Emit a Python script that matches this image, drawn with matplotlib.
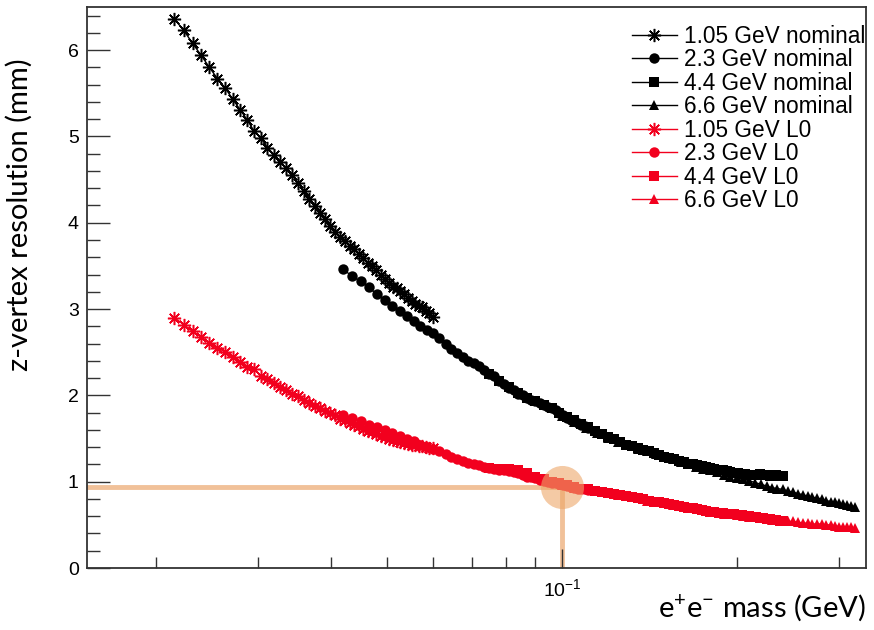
import matplotlib
matplotlib.use('Agg')
import matplotlib.pyplot as plt
from matplotlib.ticker import MultipleLocator, LogLocator, NullFormatter

plt.rcParams['font.family'] = ['Liberation Sans', 'DejaVu Sans']
plt.rcParams['mathtext.fontset'] = 'custom'
plt.rcParams['mathtext.rm'] = 'Lato'

# mass points (GeV) for each beam energy
mass_105 = [0.0215, 0.0223, 0.0231, 0.0239, 0.0247, 0.0255, 0.0263, 0.0271, 0.0279,
            0.0287, 0.0295, 0.0303, 0.0311, 0.0319, 0.0327, 0.0335, 0.0343, 0.0351,
            0.0359, 0.0367, 0.0375, 0.0383, 0.0391, 0.0399, 0.0407, 0.0415, 0.0423,
            0.0431, 0.0439, 0.0447, 0.0455, 0.0463, 0.0471, 0.0479, 0.0487, 0.0495,
            0.0503, 0.0511, 0.0519, 0.0527, 0.0535, 0.0543, 0.0551, 0.0559, 0.0567,
            0.0575, 0.0583, 0.0591, 0.0599]
mass_23 = [0.0420, 0.0435, 0.0450, 0.0465, 0.0480, 0.0495, 0.0510, 0.0525, 0.0540,
           0.0555, 0.0570, 0.0585, 0.0600, 0.0615, 0.0630, 0.0645, 0.0660, 0.0675,
           0.0690, 0.0705, 0.0720, 0.0735, 0.0750, 0.0765, 0.0780, 0.0795, 0.0810,
           0.0825, 0.0840, 0.0855, 0.0870, 0.0885, 0.0900, 0.0915, 0.0930, 0.0945,
           0.0960, 0.0975, 0.0990, 0.1005, 0.1020, 0.1035, 0.1050, 0.1065, 0.1080,
           0.1095, 0.1110]
mass_44 = [0.075, 0.078, 0.081, 0.084, 0.087, 0.090, 0.093, 0.096, 0.099, 0.102,
           0.105, 0.108, 0.111, 0.114, 0.117, 0.120, 0.123, 0.126, 0.129, 0.132,
           0.135, 0.138, 0.141, 0.144, 0.147, 0.150, 0.153, 0.156, 0.159, 0.162,
           0.165, 0.168, 0.171, 0.174, 0.177, 0.180, 0.183, 0.186, 0.189, 0.192,
           0.195, 0.198, 0.201, 0.204, 0.207, 0.210, 0.213, 0.216, 0.219, 0.222,
           0.225, 0.228, 0.231, 0.234, 0.237, 0.240]
mass_66 = [0.100, 0.105, 0.110, 0.115, 0.120, 0.125, 0.130, 0.135, 0.140, 0.145,
           0.150, 0.155, 0.160, 0.165, 0.170, 0.175, 0.180, 0.185, 0.190, 0.195,
           0.200, 0.205, 0.210, 0.215, 0.220, 0.225, 0.230, 0.235, 0.240, 0.245,
           0.250, 0.255, 0.260, 0.265, 0.270, 0.275, 0.280, 0.285, 0.290, 0.295,
           0.300, 0.305, 0.310, 0.315, 0.320]

# z-vertex resolution (mm), nominal detector
nom_105 = [6.36, 6.23, 6.08, 5.94, 5.80, 5.67, 5.56, 5.43, 5.31, 5.19, 5.06, 4.98,
           4.87, 4.79, 4.70, 4.63, 4.55, 4.46, 4.37, 4.28, 4.19, 4.11, 4.04, 3.96,
           3.89, 3.84, 3.79, 3.73, 3.69, 3.64, 3.59, 3.53, 3.50, 3.45, 3.39, 3.35,
           3.30, 3.26, 3.24, 3.21, 3.17, 3.13, 3.09, 3.06, 3.04, 3.02, 2.98, 2.95, 2.91]
nom_23 = [3.46, 3.38, 3.32, 3.25, 3.17, 3.10, 3.04, 2.98, 2.92, 2.86, 2.80, 2.76,
          2.72, 2.66, 2.60, 2.54, 2.49, 2.45, 2.40, 2.37, 2.34, 2.29, 2.25, 2.22,
          2.17, 2.13, 2.09, 2.06, 2.02, 2.00, 1.97, 1.95, 1.93, 1.91, 1.89, 1.87,
          1.85, 1.83, 1.80, 1.77, 1.74, 1.72, 1.70, 1.68, 1.66, 1.64, 1.62]
nom_44 = [2.25, 2.17, 2.10, 2.03, 1.97, 1.93, 1.89, 1.85, 1.80, 1.75, 1.71, 1.67,
          1.63, 1.59, 1.55, 1.52, 1.49, 1.46, 1.43, 1.41, 1.39, 1.37, 1.35, 1.33,
          1.31, 1.29, 1.27, 1.26, 1.24, 1.23, 1.21, 1.20, 1.19, 1.18, 1.17, 1.16,
          1.15, 1.14, 1.13, 1.12, 1.11, 1.10, 1.10, 1.09, 1.09, 1.08, 1.08, 1.08,
          1.09, 1.08, 1.08, 1.07, 1.08, 1.08, 1.07, 1.07]
nom_66 = [1.76, 1.69, 1.62, 1.56, 1.51, 1.46, 1.42, 1.38, 1.35, 1.32, 1.29, 1.26,
          1.23, 1.20, 1.17, 1.15, 1.13, 1.11, 1.08, 1.06, 1.04, 1.03, 1.01, 0.99,
          0.97, 0.95, 0.93, 0.92, 0.91, 0.89, 0.88, 0.86, 0.85, 0.83, 0.82, 0.81,
          0.80, 0.78, 0.77, 0.76, 0.75, 0.74, 0.73, 0.72, 0.71]

# z-vertex resolution (mm), with L0
l0_105 = [2.90, 2.82, 2.74, 2.68, 2.61, 2.55, 2.50, 2.44, 2.39, 2.33, 2.30, 2.23,
          2.19, 2.14, 2.10, 2.06, 2.02, 1.99, 1.95, 1.91, 1.88, 1.85, 1.82, 1.80,
          1.77, 1.73, 1.71, 1.68, 1.66, 1.64, 1.61, 1.59, 1.57, 1.55, 1.53, 1.52,
          1.50, 1.48, 1.47, 1.46, 1.45, 1.44, 1.43, 1.42, 1.41, 1.41, 1.40, 1.39, 1.39]
l0_23 = [1.77, 1.74, 1.70, 1.66, 1.63, 1.60, 1.56, 1.53, 1.50, 1.47, 1.43, 1.40,
         1.38, 1.35, 1.32, 1.29, 1.26, 1.24, 1.22, 1.20, 1.19, 1.17, 1.16, 1.15,
         1.14, 1.13, 1.12, 1.11, 1.10, 1.08, 1.06, 1.05, 1.04, 1.02, 1.01, 1.00,
         0.99, 0.98, 0.97, 0.96, 0.95, 0.94, 0.93, 0.92, 0.92, 0.91, 0.90]
l0_44 = [1.16, 1.15, 1.15, 1.13, 1.10, 1.06, 1.03, 1.00, 0.98, 0.96, 0.94, 0.92,
         0.91, 0.89, 0.88, 0.87, 0.86, 0.85, 0.83, 0.82, 0.81, 0.80, 0.78, 0.77,
         0.76, 0.75, 0.74, 0.73, 0.72, 0.71, 0.70, 0.69, 0.68, 0.67, 0.66, 0.65,
         0.65, 0.64, 0.64, 0.63, 0.62, 0.62, 0.61, 0.61, 0.60, 0.60, 0.59, 0.59,
         0.58, 0.58, 0.57, 0.57, 0.56, 0.56, 0.55, 0.55]
l0_66 = [0.96, 0.93, 0.91, 0.89, 0.87, 0.85, 0.83, 0.81, 0.78, 0.76, 0.75, 0.73,
         0.72, 0.70, 0.69, 0.67, 0.66, 0.65, 0.63, 0.62, 0.61, 0.60, 0.59, 0.59,
         0.58, 0.57, 0.56, 0.56, 0.55, 0.54, 0.54, 0.53, 0.52, 0.52, 0.51, 0.51,
         0.51, 0.50, 0.50, 0.49, 0.48, 0.48, 0.47, 0.47, 0.46]

highlight_mass = 0.1
highlight_res = 0.94

red = '#f2001e'
peach = '#f1c199'
star = (8, 2, 0)

fig = plt.figure(figsize=(8.74, 6.3), dpi=100)
ax = fig.add_axes([0.0995, 0.0984, 0.8915, 0.8906])

ax.plot(mass_105, nom_105, color='black', lw=1, marker=star, ms=9.5, mew=1.1,
        label='1.05 GeV nominal')
ax.plot(mass_23, nom_23, color='black', lw=1, marker='o', ms=7.5, mew=0,
        label='2.3 GeV nominal')
ax.plot(mass_44, nom_44, color='black', lw=1, marker='s', ms=7.5, mew=0,
        label='4.4 GeV nominal')
ax.plot(mass_66, nom_66, color='black', lw=1, marker='^', ms=7.5, mew=0,
        label='6.6 GeV nominal')
ax.plot(mass_105, l0_105, color=red, lw=1, marker=star, ms=9.5, mew=1.1,
        label='1.05 GeV L0')
ax.plot(mass_23, l0_23, color=red, lw=1, marker='o', ms=7.5, mew=0,
        label='2.3 GeV L0')
ax.plot(mass_44, l0_44, color=red, lw=1, marker='s', ms=7.5, mew=0,
        label='4.4 GeV L0')
ax.plot(mass_66, l0_66, color=red, lw=1, marker='^', ms=7.5, mew=0,
        label='6.6 GeV L0')

# highlight at 100 MeV
ax.axhline(highlight_res, xmax=0.61, color=peach, lw=3.5, zorder=1)
ax.plot([highlight_mass, highlight_mass], [0, highlight_res], color=peach, lw=3.5, zorder=1)
ax.plot(highlight_mass, highlight_res, 'o', ms=31, color='#eda76a', alpha=0.6,
        mew=0, zorder=5)

ax.set_xscale('log')
ax.set_xlim(0.0152, 0.334)
ax.set_ylim(0, 6.5)

ax.xaxis.set_major_locator(LogLocator(base=10))
ax.xaxis.set_minor_locator(LogLocator(base=10, subs=range(2, 10)))
ax.xaxis.set_minor_formatter(NullFormatter())
ax.yaxis.set_major_locator(MultipleLocator(1))
ax.yaxis.set_minor_locator(MultipleLocator(0.2))

ax.tick_params(which='both', direction='in', top=False, right=False,
               labelsize=14, width=1, color='#333333')
ax.tick_params(axis='y', which='major', length=16.5, pad=6)
ax.tick_params(axis='y', which='minor', length=9.5)
ax.tick_params(axis='x', which='major', length=14, pad=7)
ax.tick_params(axis='x', which='minor', length=8)
for s in ax.spines.values():
    s.set_linewidth(1.3)
    s.set_color('#333333')

ax.set_ylabel('z-vertex resolution (mm)', fontsize=21, family=['Lato', 'DejaVu Sans'])
ax.yaxis.set_label_coords(-0.07, 0.63)
ax.set_xlabel('e$^{+}$e$^{-}$ mass (GeV)', fontsize=21, family=['Lato', 'DejaVu Sans'],
              loc='right')
ax.xaxis.set_label_coords(1.0, -0.043)

ax.legend(loc='upper left', bbox_to_anchor=(0.699, 0.968), frameon=False, fontsize=16.3,
          handlelength=2.0, handletextpad=0.3, labelspacing=0.02, borderaxespad=0,
          borderpad=0)

fig.savefig('out.png', dpi=100)
